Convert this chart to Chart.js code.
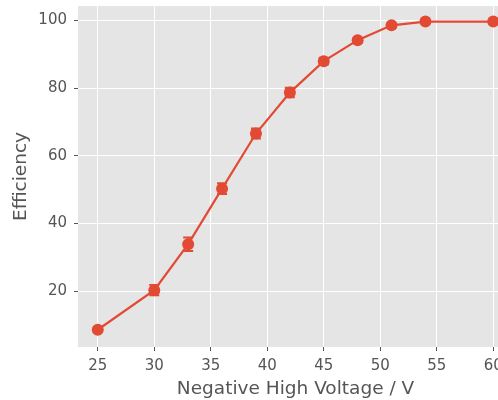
<!DOCTYPE html>
<html>
<head>
<meta charset="utf-8">
<script src="https://cdn.jsdelivr.net/npm/chart.js@4/dist/chart.umd.min.js"></script>
<style>
  html, body { margin: 0; padding: 0; background: #ffffff; overflow: hidden; }
  #wrap { position: relative; width: 520px; height: 400px; }
</style>
</head>
<body>
<div id="wrap"><canvas id="effChart"></canvas></div>
<script>
// Data
const voltages = [25, 30, 33, 36, 39, 42, 45, 48, 51, 54, 60];
const efficiency = [8.6, 20.3, 33.9, 50.3, 66.6, 78.7, 88.0, 94.2, 98.6, 99.7, 99.7];
const errors = [0.6, 1.5, 2.0, 1.6, 1.5, 1.4, 1.0, 0.6, 0.4, 0.2, 0.2];
const xTicks = [25, 30, 35, 40, 45, 50, 55, 60];
const yTicks = [20, 40, 60, 80, 100];

const red = '#E24A33';
const tickGrey = '#555555';

// Error bars drawn with the chart's own scales
const errorBars = {
    id: 'errorBars',
    afterDatasetsDraw(chart) {
        const ctx = chart.ctx;
        const xs = chart.scales.x;
        const ys = chart.scales.y;
        ctx.save();
        ctx.strokeStyle = red;
        ctx.lineWidth = 2;
        voltages.forEach((v, i) => {
            const px = xs.getPixelForValue(v);
            const top = ys.getPixelForValue(efficiency[i] + errors[i]);
            const bot = ys.getPixelForValue(efficiency[i] - errors[i]);
            ctx.beginPath();
            ctx.moveTo(px, top); ctx.lineTo(px, bot);
            ctx.moveTo(px - 5, top); ctx.lineTo(px + 5, top);
            ctx.moveTo(px - 5, bot); ctx.lineTo(px + 5, bot);
            ctx.stroke();
        });
        ctx.restore();
    }
};

// Grey panel behind the plot
const panelBg = {
    id: 'panelBg',
    beforeDraw(chart) {
        const a = chart.chartArea;
        chart.ctx.save();
        chart.ctx.fillStyle = '#E5E5E5';
        chart.ctx.fillRect(a.left, a.top, a.right - a.left, a.bottom - a.top);
        chart.ctx.restore();
    }
};

const ctx = document.getElementById('effChart').getContext('2d');
new Chart(ctx, {
    type: 'scatter',
    data: {
        datasets: [{
            data: voltages.map((v, i) => ({ x: v, y: efficiency[i] })),
            showLine: true,
            borderColor: red,
            backgroundColor: red,
            borderWidth: 2.2,
            pointRadius: 6,
            pointHoverRadius: 6,
            pointBorderWidth: 0
        }]
    },
    options: {
        responsive: true,
        maintainAspectRatio: false,
        animation: false,
        clip: false,
        layout: { padding: { top: 5, right: 7, left: 0, bottom: 0 } },
        plugins: {
            legend: { display: false },
            tooltip: { enabled: false }
        },
        scales: {
            x: {
                type: 'linear',
                min: 23.25,
                max: 61.75,
                afterBuildTicks: s => { s.ticks = xTicks.map(v => ({ value: v })); },
                afterFit: s => { s.height = 53; s.paddingLeft = 0; s.paddingRight = 0; },
                border: { display: false },
                grid: { color: '#ffffff', lineWidth: 1, tickColor: tickGrey, tickLength: 4 },
                ticks: {
                    color: tickGrey,
                    padding: 6,
                    font: { family: 'DejaVu Sans', size: 15 }
                },
                title: {
                    display: true,
                    text: 'Negative High Voltage / V',
                    color: tickGrey,
                    padding: { top: 0, bottom: 0 },
                    font: { family: 'DejaVu Sans', size: 18.5 }
                }
            },
            y: {
                min: 3.5,
                max: 104.3,
                afterBuildTicks: s => { s.ticks = yTicks.map(v => ({ value: v })); },
                afterFit: s => { s.width = 78; s.paddingTop = 0; s.paddingBottom = 0; },
                border: { display: false },
                grid: { color: '#ffffff', lineWidth: 1, tickColor: tickGrey, tickLength: 4 },
                ticks: {
                    color: tickGrey,
                    padding: 7,
                    font: { family: 'DejaVu Sans', size: 15 }
                },
                title: {
                    display: true,
                    text: 'Efficiency',
                    color: tickGrey,
                    padding: { top: 10, bottom: 0 },
                    font: { family: 'DejaVu Sans', size: 18.5 }
                }
            }
        }
    },
    plugins: [panelBg, errorBars]
});
</script>
</body>
</html>
